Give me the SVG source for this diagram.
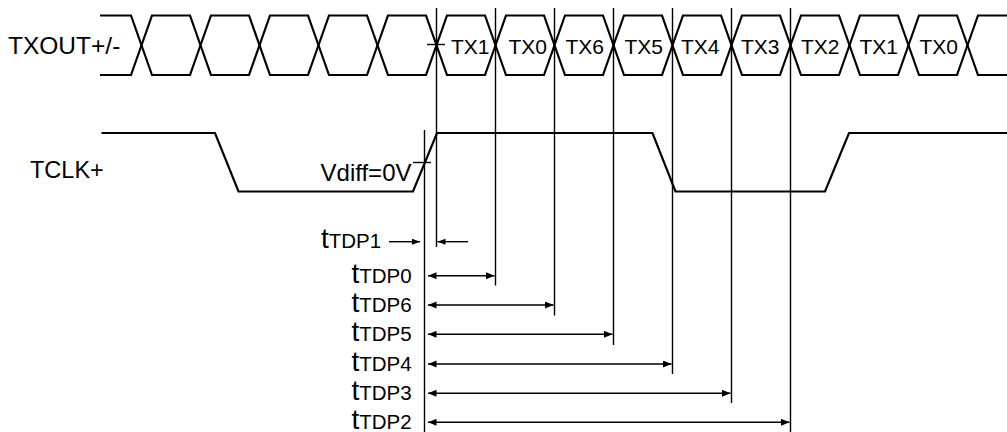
<svg xmlns="http://www.w3.org/2000/svg" width="1007" height="432" viewBox="0 0 1007 432">
<style>
.wave{fill:none;stroke:#000;stroke-width:2.2;stroke-linejoin:miter}
.vl{fill:none;stroke:#000;stroke-width:1.4}
.arr{fill:none;stroke:#000;stroke-width:1.4}
.lbl{font-family:"Liberation Sans",Arial,sans-serif;fill:#000}
.tb{font-size:28px}
.ts{font-size:20.5px}
</style>
<defs>
<marker id="ah" markerUnits="userSpaceOnUse" markerWidth="9" markerHeight="8" refX="8.5" refY="3.5" orient="auto-start-reverse">
<path d="M0,0 L8.5,3.5 L0,7 z" fill="#000"/>
</marker>
<marker id="ahs" markerUnits="userSpaceOnUse" markerWidth="9" markerHeight="8" refX="8" refY="3" orient="auto-start-reverse">
<path d="M0,0 L8,3 L0,6 z" fill="#000"/>
</marker>
</defs>
<rect width="1007" height="432" fill="#fff"/>
<g id="txout">
<path class="wave" d="M100,15.5 L131,15.5 L152,75 L190,75 L211,15.5 L249,15.5 L270,75 L308,75 L329,15.5 L367,15.5 L388,75 L426,75 L447,15.5 L485,15.5 L506,75 L544,75 L565,15.5 L603,15.5 L624,75 L662,75 L683,15.5 L721,15.5 L742,75 L780,75 L801,15.5 L839,15.5 L860,75 L898,75 L919,15.5 L957,15.5 L978,75 L1007,75"/>
<path class="wave" d="M100,75 L131,75 L152,15.5 L190,15.5 L211,75 L249,75 L270,15.5 L308,15.5 L329,75 L367,75 L388,15.5 L426,15.5 L447,75 L485,75 L506,15.5 L544,15.5 L565,75 L603,75 L624,15.5 L662,15.5 L683,75 L721,75 L742,15.5 L780,15.5 L801,75 L839,75 L860,15.5 L898,15.5 L919,75 L957,75 L978,15.5 L1007,15.5"/>
<path class="vl" d="M427,44.5 L445,44.5"/>
<text class="lbl" x="8" y="54.3" font-size="24.5">TXOUT+/-</text>
<g class="lbl" font-size="21">
<text x="451" y="54">TX1</text>
<text x="508.5" y="54">TX0</text>
<text x="565.5" y="54">TX6</text>
<text x="624.5" y="54">TX5</text>
<text x="681" y="54">TX4</text>
<text x="741" y="54">TX3</text>
<text x="801" y="54">TX2</text>
<text x="859.5" y="54">TX1</text>
<text x="919.5" y="54">TX0</text>
</g>
</g>
<g id="tclk">
<path class="wave" d="M101.5,133 L215,133 L238.5,191.5 L413,191.5 L437,133 L652.5,133 L675.5,191.5 L825,191.5 L849,133 L1007,133"/>
<path class="vl" d="M413,162.5 L431,162.5"/>
<text class="lbl" x="30" y="178.3" font-size="23.5">TCLK+</text>
<text class="lbl" x="411.5" y="180.5" font-size="24" text-anchor="end">Vdiff=0V</text>
</g>
<g id="reference-lines">
<path class="vl" d="M424.5,130 V432 M436.5,8 V247 M495.5,8 V285.5 M554.5,8 V315.5 M613.5,8 V345 M672.5,8 V374 M731.5,8 V403 M790.5,8 V432"/>
</g>
<g id="connectors">
<line class="arr" x1="389" y1="241.7" x2="420" y2="241.7" marker-end="url(#ahs)"/>
<line class="arr" x1="468" y1="241.7" x2="437.5" y2="241.7" marker-end="url(#ahs)"/>
<line class="arr" x1="428" y1="275.7" x2="494.5" y2="275.7" marker-start="url(#ah)" marker-end="url(#ah)"/>
<line class="arr" x1="428" y1="305" x2="553.5" y2="305" marker-start="url(#ah)" marker-end="url(#ah)"/>
<line class="arr" x1="428" y1="334.3" x2="612.5" y2="334.3" marker-start="url(#ah)" marker-end="url(#ah)"/>
<line class="arr" x1="428" y1="364" x2="671.5" y2="364" marker-start="url(#ah)" marker-end="url(#ah)"/>
<line class="arr" x1="428" y1="393.3" x2="730.5" y2="393.3" marker-start="url(#ah)" marker-end="url(#ah)"/>
<line class="arr" x1="428" y1="422.3" x2="789.5" y2="422.3" marker-start="url(#ah)" marker-end="url(#ah)"/>
</g>
<g id="timing-labels" class="lbl">
<text x="321" y="248.3"><tspan class="tb">t</tspan><tspan class="ts">TDP1</tspan></text>
<text x="351.5" y="282.5"><tspan class="tb">t</tspan><tspan class="ts">TDP0</tspan></text>
<text x="351.5" y="311.8"><tspan class="tb">t</tspan><tspan class="ts">TDP6</tspan></text>
<text x="351.5" y="341.1"><tspan class="tb">t</tspan><tspan class="ts">TDP5</tspan></text>
<text x="351.5" y="370.6"><tspan class="tb">t</tspan><tspan class="ts">TDP4</tspan></text>
<text x="351.5" y="399.9"><tspan class="tb">t</tspan><tspan class="ts">TDP3</tspan></text>
<text x="351.5" y="428.9"><tspan class="tb">t</tspan><tspan class="ts">TDP2</tspan></text>
</g>
</svg>
